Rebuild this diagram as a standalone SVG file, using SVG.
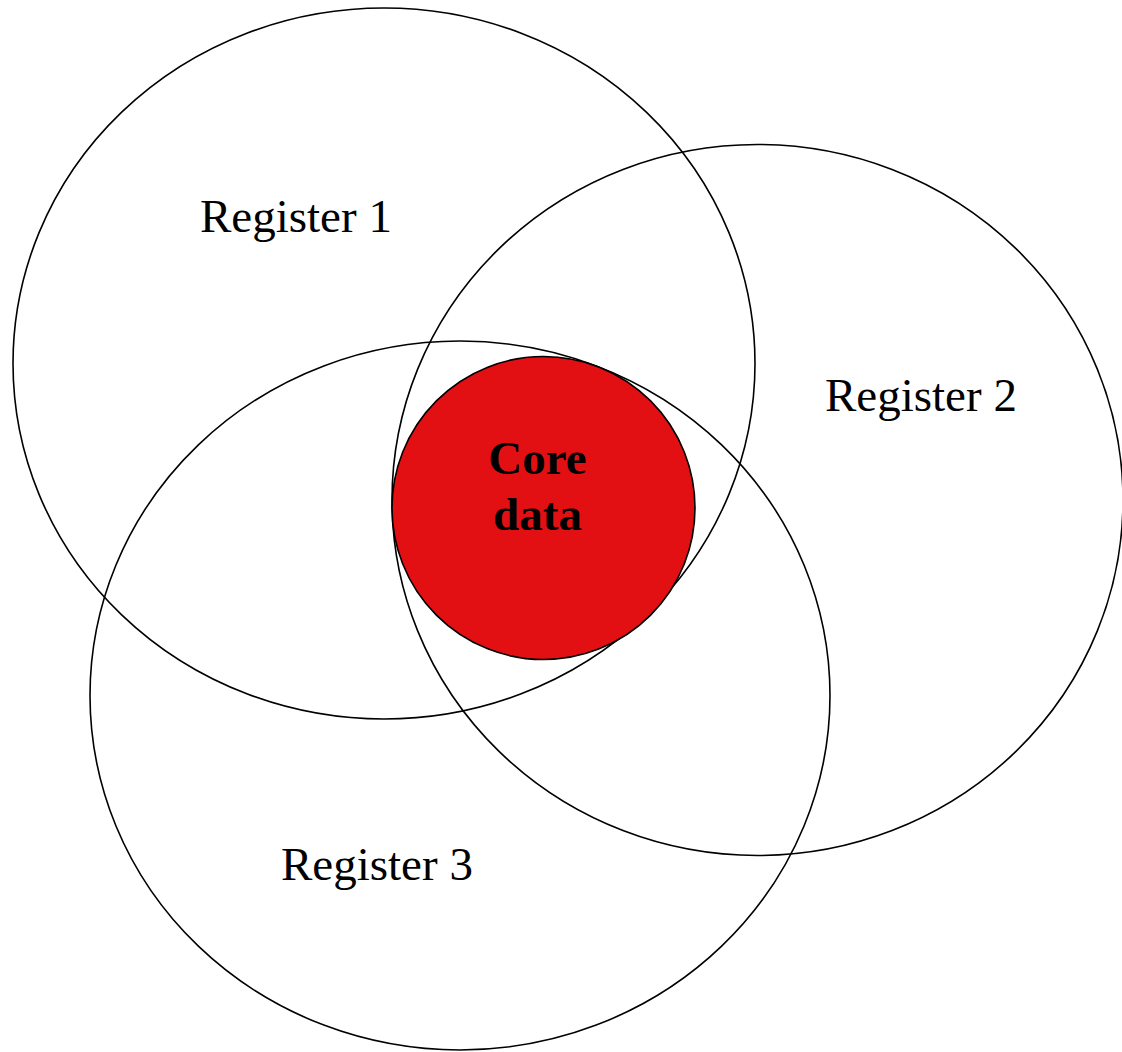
<svg xmlns="http://www.w3.org/2000/svg" width="1122" height="1052" viewBox="0 0 1122 1052">
  <style>
    .set { fill: none; stroke: #000; stroke-width: 1.6; }
    .core { fill: #E31013; stroke: #000; stroke-width: 1.6; }
    .label { font-family: "Liberation Serif", "Times New Roman", serif; font-size: 47px; fill: #000; }
    .bold { font-weight: bold; text-anchor: middle; }
  </style>
  <rect width="1122" height="1052" fill="#fff"/>
  <g id="register1">
    <ellipse class="set" cx="384" cy="363.5" rx="371" ry="355.5"/>
    <text class="label" x="200" y="232">Register 1</text>
  </g>
  <g id="register2">
    <ellipse class="set" cx="757.5" cy="500" rx="365.5" ry="355.5"/>
    <text class="label" x="825" y="411">Register 2</text>
  </g>
  <g id="register3">
    <ellipse class="set" cx="460" cy="695.5" rx="370" ry="354.5"/>
    <text class="label" x="281" y="880">Register 3</text>
  </g>
  <g id="core">
    <circle class="core" cx="543.5" cy="508" r="151.5"/>
    <text class="label bold" x="537.5" y="474">Core</text>
    <text class="label bold" x="537.5" y="530">data</text>
  </g>
  <g id="connectors"/>
</svg>
